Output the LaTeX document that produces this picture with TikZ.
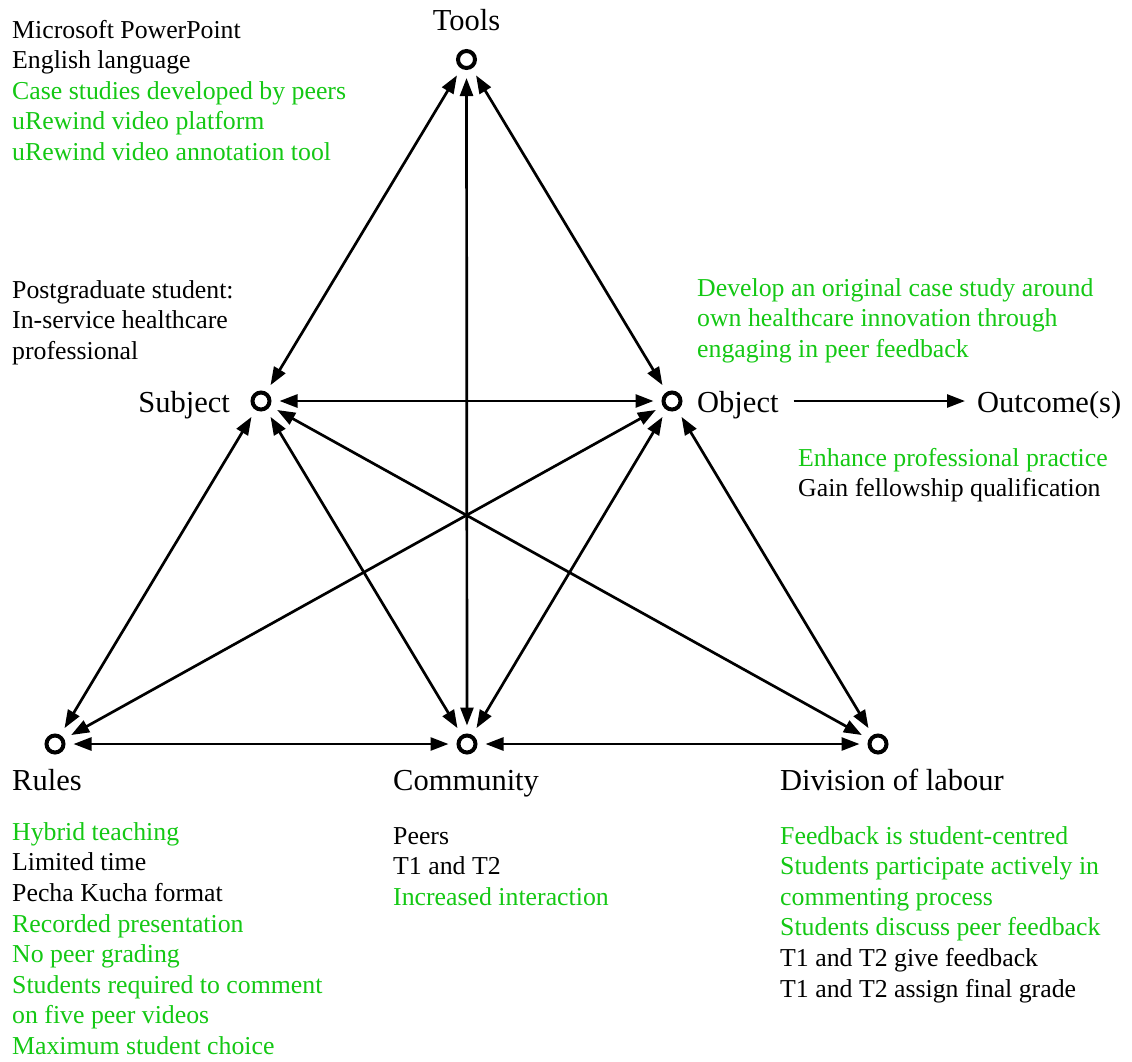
\documentclass[tikz,border=0pt]{standalone}
\usepackage{fontspec}
\setmainfont{Liberation Serif}
\usetikzlibrary{arrows.meta}
\definecolor{grn}{RGB}{20,200,20}
\begin{document}
\begin{tikzpicture}[x=1pt,y=-1pt,
  dot/.style={circle,draw,line width=4pt,minimum size=17pt,inner sep=0pt},
  tip/.tip={Triangle[length=18pt,width=13pt]},
  conn/.style={tip-tip,line width=2.7pt,shorten <=8pt,shorten >=8pt},
  outarr/.style={-tip,line width=2.7pt,shorten <=15pt,shorten >=12pt},
  lbl/.style={inner sep=0pt,font=\fontsize{30.5}{36}\selectfont},
  lst/.style={inner sep=0pt,align=left,font=\fontsize{25.8}{30.6}\selectfont},
]
\useasboundingbox (0,0) rectangle (1132,1061);

% activity system nodes
\node[dot] (T) at (466.5,59.5) {};
\node[dot] (S) at (261,401) {};
\node[dot] (O) at (672,401) {};
\node[dot] (R) at (55,744) {};
\node[dot] (C) at (467,744) {};
\node[dot] (D) at (878,744) {};

% labels
\node[lbl,anchor=base] (tl) at (466.5,30) {Tools};
\node[lbl,anchor=base east] (sl) at (230,412) {Subject};
\node[lbl,anchor=base west] (ol) at (697,412) {Object};
\node[lbl,anchor=base west] (oc) at (977,412) {Outcome(s)};
\node[lbl,anchor=base west] (rl) at (12,790) {Rules};
\node[lbl,anchor=base west] (cl) at (393,790) {Community};
\node[lbl,anchor=base west] (dl) at (780,790) {Division of labour};

% connectors
\draw[conn] (T) -- (S);
\draw[conn] (T) -- (O);
\draw[conn] (T) -- (C);
\draw[conn] (S) -- (O);
\draw[conn] (S) -- (R);
\draw[conn] (S) -- (C);
\draw[conn] (S) -- (D);
\draw[conn] (O) -- (R);
\draw[conn] (O) -- (C);
\draw[conn] (O) -- (D);
\draw[conn] (R) -- (C);
\draw[conn] (C) -- (D);
\draw[outarr] (ol.east |- O) -- (oc.west |- O);

% lists (anchored at the baseline of their last line)
\node[lst,anchor=base west] (toolslist) at (12,160.4) {Microsoft PowerPoint\\English language\\\textcolor{grn}{Case studies developed by peers}\\\textcolor{grn}{uRewind video platform}\\\textcolor{grn}{uRewind video annotation tool}};
\node[lst,anchor=base west] (subjlist) at (12,359.2) {Postgraduate student:\\In-service healthcare\\professional};
\node[lst,anchor=base west,text=grn] (objlist) at (697,357.2) {Develop an original case study around\\own healthcare innovation through\\engaging in peer feedback};
\node[lst,anchor=base west] (outlist) at (798,496.6) {\textcolor{grn}{Enhance professional practice}\\Gain fellowship qualification};
\node[lst,anchor=base west] (ruleslist) at (12,1054.5) {\textcolor{grn}{Hybrid teaching}\\Limited time\\Pecha Kucha format\\\textcolor{grn}{Recorded presentation}\\\textcolor{grn}{No peer grading}\\\textcolor{grn}{Students required to comment}\\\textcolor{grn}{on five peer videos}\\\textcolor{grn}{Maximum student choice}};
\node[lst,anchor=base west] (commlist) at (393,905.2) {Peers\\T1 and T2\\\textcolor{grn}{Increased interaction}};
\node[lst,anchor=base west] (divlist) at (780,997) {\textcolor{grn}{Feedback is student-centred}\\\textcolor{grn}{Students participate actively in}\\\textcolor{grn}{commenting process}\\\textcolor{grn}{Students discuss peer feedback}\\T1 and T2 give feedback\\T1 and T2 assign final grade};
\end{tikzpicture}
\end{document}
